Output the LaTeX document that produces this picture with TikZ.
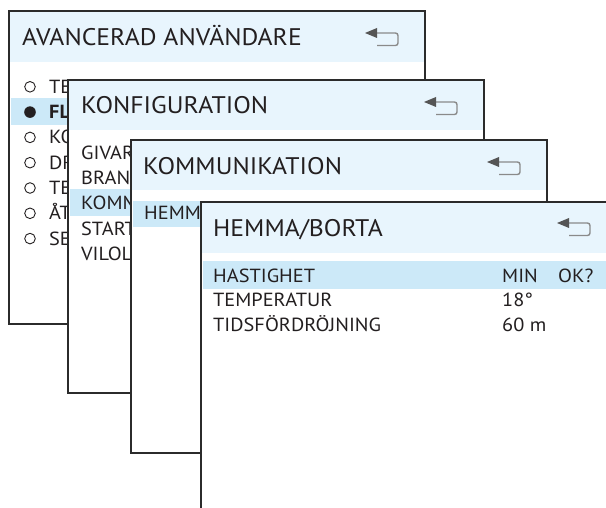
\documentclass[tikz,border=0pt]{standalone}
\usepackage{fontspec}
\setmainfont{PT Sans}[FakeStretch=1.07]
\definecolor{frame}{HTML}{2B2B2B}
\definecolor{ink}{HTML}{231F20}
\definecolor{headbg}{HTML}{E8F5FD}
\definecolor{selbg}{HTML}{CCE9F8}
\definecolor{headgray}{HTML}{555555}
\definecolor{hookgray}{HTML}{8A8A8A}
\tikzset{
  panelbox/.style={draw=frame, line width=2pt, fill=white},
  title/.style={anchor=base west, inner sep=0pt, text=ink, font=\fontsize{24}{26}\selectfont},
  item/.style={anchor=base west, inner sep=0pt, text=ink, font=\fontsize{19}{21}\selectfont},
  radio/.style={draw=ink, line width=0.9pt, fill=white},
  backarrow/.pic={
    \draw[hookgray, line width=1.4pt, rounded corners=2.5pt] (10,0) -- (33,0) -- (33,12.5) -- (12,12.5);
    \fill[headgray] (0,0) -- (12,-5) -- (12,5) -- cycle;
  }
}
\begin{document}
\begin{tikzpicture}[x=1pt,y=-1pt]
\useasboundingbox (0,0) rectangle (606,508);
\clip (0,0) rectangle (606,508);

% ---------- panel 1
\draw[panelbox] (9,11) rectangle (425,324);
\fill[headbg] (10,12) rectangle (424,62);
\node[title] (t1) at (22,46) {AVANCERAD ANVÄNDARE};
\pic at (365,33) {backarrow};
\fill[selbg] (11,98) rectangle (423,125);
\foreach \i/\t in {0/TE,2/KO,3/DR,4/TE,5/ÅT,6/SE}{
  \node[item] (a\i) at (49,{93.3+25.3*\i}) {\t};
  \draw[radio] (30,{86.8+25.3*\i}) circle (5.3);
}
\node[item, font=\fontsize{19}{21}\selectfont\bfseries] (a1) at (49,118.6) {FL};
\fill[ink] (30,112.1) circle (5.8);

% ---------- panel 2
\draw[panelbox] (68,80) rectangle (484,393);
\fill[headbg] (69,81) rectangle (483,130);
\node[title] (t2) at (81,114) {KONFIGURATION};
\pic at (424,102) {backarrow};
\fill[selbg] (70,189) rectangle (482,216);
\node[item] (b0) at (81,160) {GIVAR};
\node[item] (b1) at (81,185) {BRAN};
\node[item] (b2) at (81,210) {KOMM};
\node[item] (b3) at (81,235.5) {START};
\node[item] (b4) at (81,260.7) {VILOL};

% ---------- panel 3
\draw[panelbox] (131,140) rectangle (547,453);
\fill[headbg] (132,141) rectangle (546,190);
\node[title] (t3) at (143,175) {KOMMUNIKATION};
\pic at (487,162) {backarrow};
\fill[selbg] (133,200.7) rectangle (545,227.3);
\node[item] (c0) at (144,220) {HEMM};

% ---------- panel 4
\draw[panelbox] (201,202) rectangle (617,560);
\fill[headbg] (202,203) rectangle (616,253);
\node[title] (t4) at (213,236.7) {HEMMA/BORTA};
\pic at (557,223) {backarrow};
\fill[selbg] (203,260.7) rectangle (615,289);
\node[item] (d0) at (213,282.7) {HASTIGHET};
\node[item] (d1) at (213,306.7) {TEMPERATUR};
\node[item] (d2) at (213,331.7) {TIDSFÖRDRÖJNING};
\node[item] (v0) at (502,282.7) {MIN};
\node[item] (ok) at (558,282.7) {OK?};
\node[item] (v1) at (502,306.7) {18°};
\node[item] (v2) at (502,331.7) {60 m};
\end{tikzpicture}
\end{document}
